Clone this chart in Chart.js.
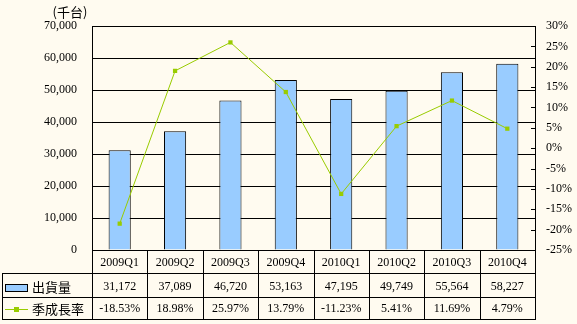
<!DOCTYPE html>
<html><head><meta charset="utf-8">
<script src="https://cdn.jsdelivr.net/npm/chart.js@4/dist/chart.umd.min.js"></script>
<style>html,body{margin:0;padding:0;background:#FFFBF0;}canvas{display:block;}</style>
</head><body>
<canvas id="c" width="577" height="324"></canvas>
<script>
const categories = ['2009Q1','2009Q2','2009Q3','2009Q4','2010Q1','2010Q2','2010Q3','2010Q4'];
const shipments = [31172, 37089, 46720, 53163, 47195, 49749, 55564, 58227];
const growth = [-18.53, 18.98, 25.97, 13.79, -11.23, 5.41, 11.69, 4.79];
const shipLabel = '出貨量';
const growthLabel = '季成長率';
const unitLabel = '(千台)';

const BAR = '#99CCFF', LINE = '#99CC00', BG = '#FFFBF0';
const SERIF = '"Liberation Serif", "Times New Roman", serif';
const CJK = '"Noto Sans CJK TC", "Noto Sans CJK SC", sans-serif';

function fmt(v){ return v.toLocaleString('en-US'); }

const tablePlugin = {
  id: 'tablePlugin',
  beforeDraw(chart){
    const ctx = chart.ctx;
    ctx.save(); ctx.fillStyle = BG; ctx.fillRect(0,0,chart.width,chart.height); ctx.restore();
  },
  afterDraw(chart){
    const ctx = chart.ctx, a = chart.chartArea;
    const L = a.left, R = a.right, B = a.bottom;
    const n = categories.length, w = (R - L) / n;
    const r1 = 273, r2 = 297, r3 = 319, tl = 2;
    ctx.save();
    ctx.strokeStyle = '#000'; ctx.lineWidth = 1;
    ctx.beginPath();
    for (let i = 0; i <= n; i++) {
      const x = Math.round(L + i * w) + 0.5;
      ctx.moveTo(x, B); ctx.lineTo(x, r3 + 0.5);
    }
    [r1, r2, r3].forEach(y => { ctx.moveTo(tl, y + 0.5); ctx.lineTo(Math.round(R) + 1, y + 0.5); });
    ctx.moveTo(tl + 0.5, r1); ctx.lineTo(tl + 0.5, r3 + 1);
    // inside ticks on right axis
    const y1 = chart.scales.y1;
    for (let v = -25; v <= 30; v += 5) {
      const y = Math.round(y1.getPixelForValue(v)) + 0.5;
      ctx.moveTo(Math.round(R) - 4, y); ctx.lineTo(Math.round(R), y);
    }
    ctx.stroke();

    ctx.fillStyle = '#000';
    ctx.textAlign = 'center'; ctx.textBaseline = 'middle';
    ctx.font = '12px ' + SERIF;
    for (let i = 0; i < n; i++) {
      const cx = chart.scales.x.getPixelForValue(i);
      ctx.fillText(categories[i], cx, 263);
      ctx.fillText(fmt(shipments[i]), cx, 287);
      ctx.fillText(growth[i].toFixed(2) + '%', cx, 309);
    }
    // legend column
    ctx.fillStyle = BAR; ctx.fillRect(5.5, 284.5, 22, 7);
    ctx.strokeRect(5.5, 284.5, 22, 7);
    ctx.strokeStyle = LINE; ctx.beginPath(); ctx.moveTo(5, 309.5); ctx.lineTo(28, 309.5); ctx.stroke();
    ctx.fillStyle = LINE; ctx.fillRect(14, 307, 5, 5);
    ctx.fillStyle = '#000';
    ctx.textAlign = 'left';
    ctx.font = '13px ' + CJK;
    ctx.fillText(shipLabel, 32, 287);
    ctx.fillText(growthLabel, 32, 309);
    ctx.textAlign = 'center';
    ctx.fillText(unitLabel, 70, 12);
    ctx.restore();
  }
};

new Chart(document.getElementById('c'), {
  data: {
    labels: categories,
    datasets: [
      { type: 'line', label: growthLabel, data: growth, yAxisID: 'y1', order: 0,
        borderColor: LINE, borderWidth: 1, backgroundColor: LINE,
        pointStyle: 'rect', pointRadius: 3, pointBorderWidth: 0, pointBackgroundColor: LINE, tension: 0 },
      { type: 'bar', label: shipLabel, data: shipments, yAxisID: 'y', order: 1,
        backgroundColor: BAR, borderColor: '#000', borderWidth: 1, borderSkipped: 'start',
        barPercentage: 0.4, categoryPercentage: 1.0 }
    ]
  },
  options: {
    responsive: false, animation: false, devicePixelRatio: 1,
    layout: { padding: { top: 26, left: 0, right: 0, bottom: 0 } },
    plugins: { legend: { display: false }, tooltip: { enabled: false } },
    scales: {
      x: { type: 'category', offset: true,
        grid: { display: false }, ticks: { display: false },
        border: { display: true, color: '#000' },
        afterFit(s){ s.height = 74; } },
      y: { position: 'left', min: 0, max: 70000,
        ticks: { stepSize: 10000, color: '#000', padding: 15, font: { family: SERIF, size: 12 }, callback: v => fmt(v) },
        grid: { color: '#000', lineWidth: 1, drawTicks: false },
        border: { display: true, color: '#000' },
        afterFit(s){ s.width = 92; } },
      y1: { position: 'right', min: -25, max: 30,
        ticks: { stepSize: 5, color: '#000', padding: 11, font: { family: SERIF, size: 12 }, callback: v => v + '%' },
        grid: { display: false, drawOnChartArea: false, drawTicks: false },
        border: { display: true, color: '#000' },
        afterFit(s){ s.width = 42; } }
    }
  },
  plugins: [tablePlugin]
});
</script>
</body></html>
